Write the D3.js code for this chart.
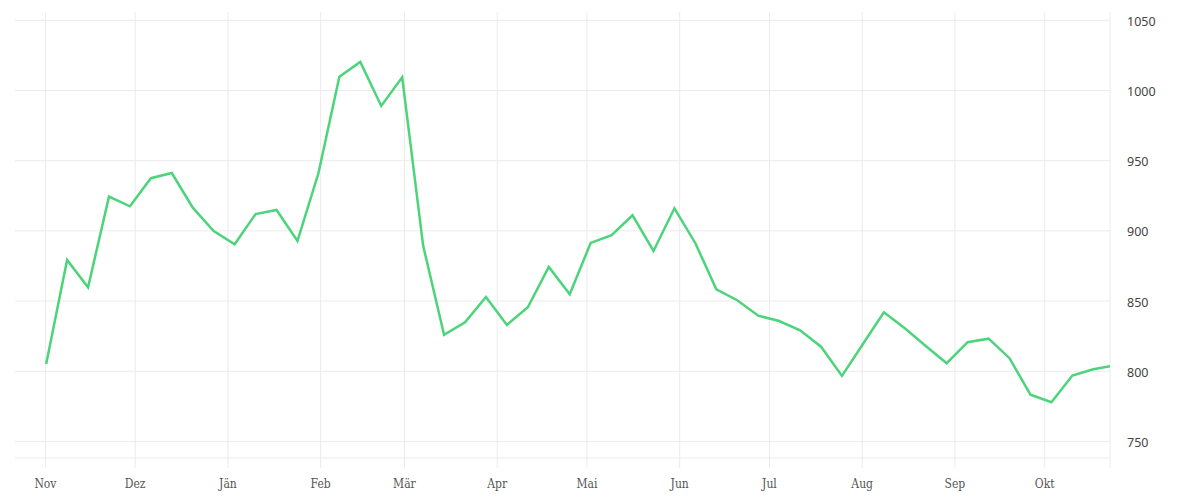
<!DOCTYPE html>
<html>
<head>
<meta charset="utf-8">
<script src="https://cdn.jsdelivr.net/npm/d3@7"></script>
<style>
  html, body { margin: 0; padding: 0; background: #fff; }
  svg { display: block; }
</style>
</head>
<body>
<svg id="chart" width="1200" height="500"></svg>
<script>
// ---- data ----
const startDate = "2022-11-01";           // first weekly observation
const values = [
  805.2, 879.3, 859.8, 924.4, 917.5, 937.5, 941.2, 916.5, 899.9, 890.5,
  912.0, 914.9, 892.8, 941.0, 1009.8, 1020.3, 989.0, 1009.4, 889.5, 825.9,
  834.9, 852.9, 833.0, 845.6, 874.3, 854.8, 891.4, 896.9, 911.1, 885.7,
  916.1, 891.2, 858.4, 850.6, 839.6, 835.8, 829.2, 817.5, 796.7, 819.4,
  842.0, 830.6, 818.0, 805.7, 820.7, 823.2, 809.3, 783.3, 777.9, 796.9,
  801.4, 804.1
];
const monthLabels = ["Nov","Dez","Jän","Feb","Mär","Apr","Mai","Jun","Jul","Aug","Sep","Okt"];
const monthStarts = ["2022-11-01","2022-12-01","2023-01-01","2023-02-01","2023-03-01","2023-04-01",
                     "2023-05-01","2023-06-01","2023-07-01","2023-08-01","2023-09-01","2023-10-01"];
const yTicks = [750, 800, 850, 900, 950, 1000, 1050];
const xDomain = ["2022-10-22", "2023-10-23"];
const yDomain = [738.2, 1055.9];

// ---- build ----
(function () {
const parse = d3.utcParse("%Y-%m-%d");
const t0 = parse(startDate);
const data = values.map((v, i) => ({ date: d3.utcHour.offset(d3.utcDay.offset(t0, i * 7), 10), value: v }));
const months = monthStarts.map(parse);

const mL = 15, mR = 1110, mT = 12, mB = 458;
const svg = d3.select("#chart");

const x = d3.scaleUtc().domain(xDomain.map(parse)).range([mL, mR]);
const y = d3.scaleLinear().domain(yDomain).range([mB, mT]);

const grid = "#ebebeb";

// vertical grid / x axis
const xAxis = d3.axisBottom(x)
  .tickValues(months)
  .tickSize(-(mB - mT) - 10)
  .tickPadding(0)
  .tickFormat((d, i) => monthLabels[i]);
const gx = svg.append("g").attr("transform", `translate(0,${mB + 10})`).call(xAxis);
gx.select(".domain").remove();
gx.selectAll(".tick line").attr("stroke", grid).attr("stroke-width", 1);
gx.selectAll(".tick text")
  .attr("y", 20).attr("dy", 0)
  .attr("fill", "#555")
  .style("font-family", "'DejaVu Serif Condensed', 'DejaVu Serif', serif")
  .style("font-size", "12px");

// horizontal grid
svg.append("g").selectAll("line")
  .data(yTicks).join("line")
  .attr("x1", mL).attr("x2", mR)
  .attr("y1", d => y(d)).attr("y2", d => y(d))
  .attr("stroke", grid).attr("stroke-width", 1);

// y axis (labels on right)
const yAxis = d3.axisRight(y)
  .tickValues(yTicks)
  .tickSize(0)
  .tickPadding(17)
  .tickFormat(d3.format("d"));
const gy = svg.append("g").attr("transform", `translate(${mR},0)`).call(yAxis);
gy.select(".domain").remove();
gy.selectAll(".tick text")
  .attr("fill", "#444")
  .attr("dy", "0.4em")
  .style("font-family", "'Noto Sans', sans-serif")
  .style("font-size", "12.5px");

// bottom baseline and right edge
svg.append("line").attr("x1", mL).attr("x2", mR).attr("y1", mB).attr("y2", mB)
  .attr("stroke", grid);
svg.append("line").attr("x1", mR).attr("x2", mR).attr("y1", mT).attr("y2", mB + 10)
  .attr("stroke", grid);

// clip
svg.append("clipPath").attr("id", "clip").append("rect")
  .attr("x", mL).attr("y", mT).attr("width", mR - mL).attr("height", mB - mT);

const line = d3.line().x(d => x(d.date)).y(d => y(d.value));
svg.append("path")
  .datum(data)
  .attr("clip-path", "url(#clip)")
  .attr("d", line)
  .attr("fill", "none")
  .attr("stroke", "#4cd47b")
  .attr("stroke-width", 2.5)
  .attr("stroke-linejoin", "miter");
})();
</script>
</body>
</html>
